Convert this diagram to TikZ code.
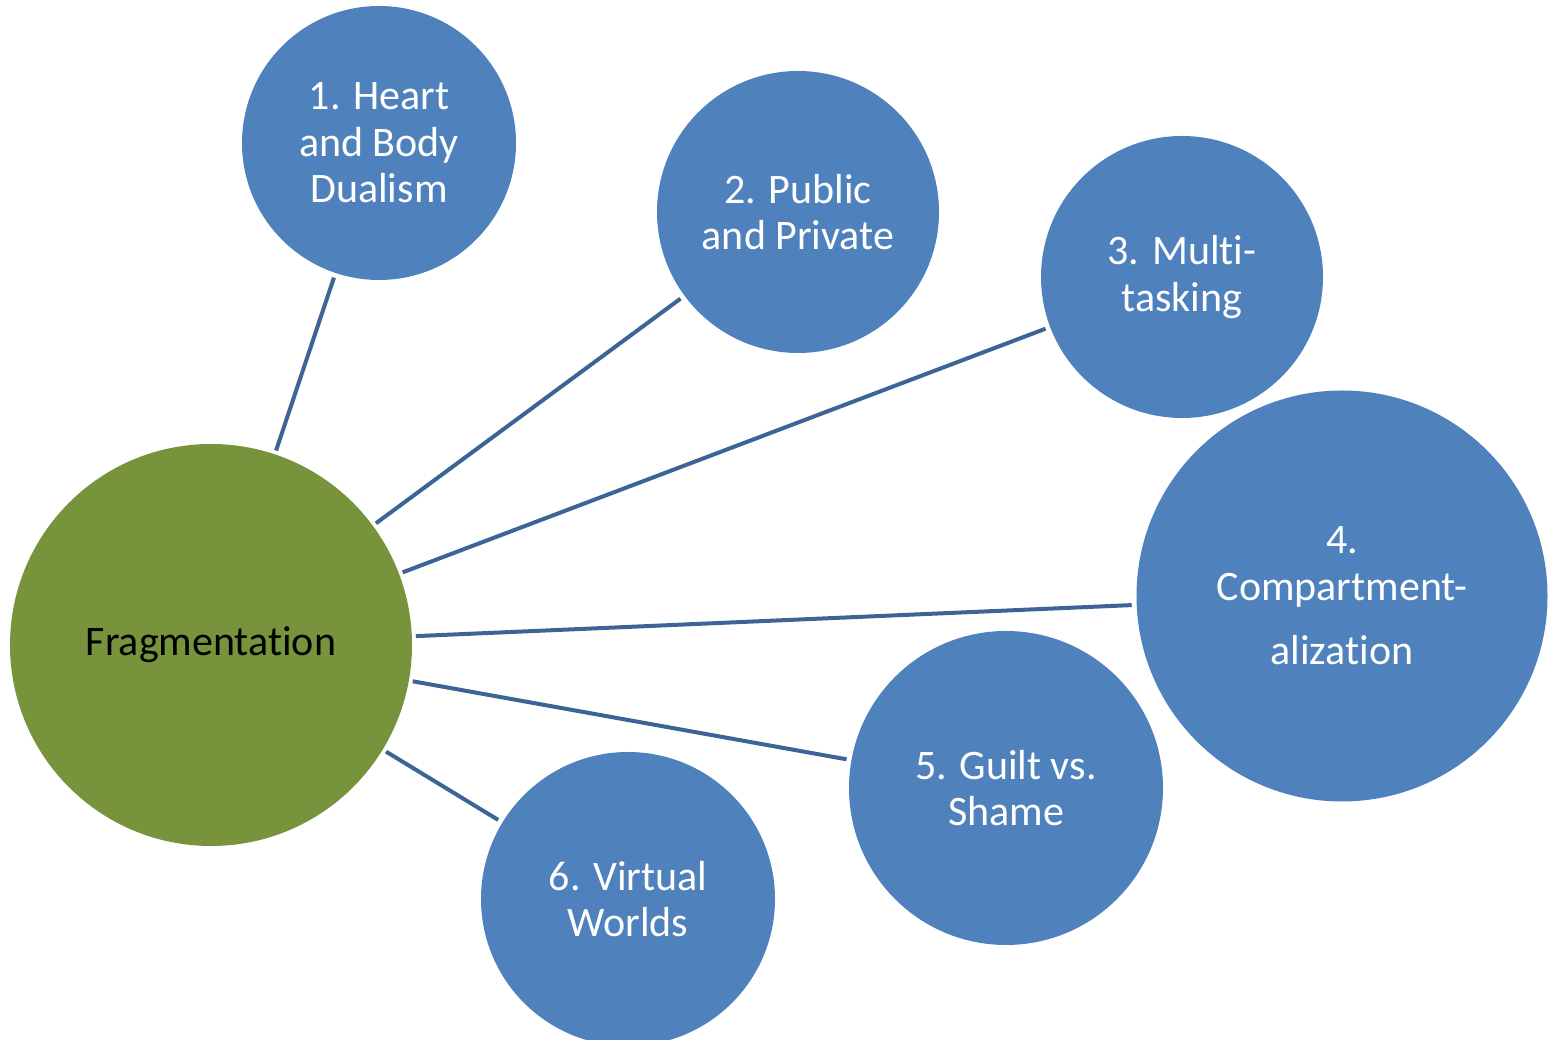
\documentclass[tikz,border=0pt]{standalone}
\usepackage{fontspec}
\setmainfont[RawFeature=-liga]{Carlito}
\definecolor{bub}{HTML}{4F81BD}
\definecolor{grn}{HTML}{77933C}
\definecolor{lnk}{HTML}{3C6496}
\begin{document}
\begin{tikzpicture}[x=1pt,y=1pt,
  bubble/.style={circle,fill=bub,draw=none,inner sep=0pt,outer sep=0pt,text=white,align=center,
    font=\fontsize{42}{46.5}\selectfont},
  hub/.style={circle,fill=grn,draw=none,inner sep=0pt,outer sep=0pt,text=black,
    font=\fontsize{42}{46.5}\selectfont},
  link/.style={draw=lnk,line width=4pt,shorten <=4pt,shorten >=5pt}]
\useasboundingbox (0,0) rectangle (1550,1040);
\node[hub,minimum size=402pt] (frag) at (211,395) {Fragmentation};
\node[bubble,minimum size=274pt] (n1) at (379,897) {1. Heart\\and Body\\Dualism};
\node[bubble,minimum size=282pt] (n2) at (798,828) {2. Public\\and Private};
\node[bubble,minimum size=282pt] (n3) at (1182,763) {3. Multi-\\tasking};
\node[bubble,minimum size=411pt] (n4) at (1342,444) {4.\\Compartment-\\[18pt]alization};
\node[bubble,minimum size=314pt] (n5) at (1006,252) {5. Guilt vs.\\Shame};
\node[bubble,minimum size=294pt] (n6) at (628,141) {6. Virtual\\Worlds};
\draw[link] (frag) -- (n1);
\draw[link] (frag) -- (n2);
\draw[link] (frag) -- (n3);
\draw[link] (frag) -- (n4);
\draw[link] (frag) -- (n5);
\draw[link] (frag) -- (n6);
\end{tikzpicture}
\end{document}
